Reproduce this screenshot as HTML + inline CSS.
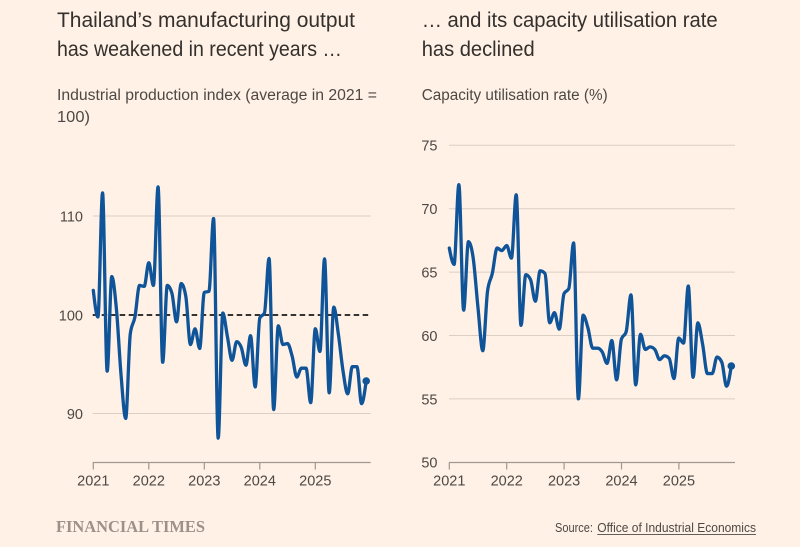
<!DOCTYPE html>
<html>
<head>
<meta charset="utf-8">
<style>
  html,body{margin:0;padding:0;background:#fff1e5;}
  svg{display:block;}
  text{font-family:"Liberation Sans",Arial,sans-serif;}
</style>
</head>
<body>
<svg id="chart" width="800" height="547" viewBox="0 0 800 547" xmlns="http://www.w3.org/2000/svg">
  <rect x="0" y="0" width="800" height="547" fill="#fff1e5"/>

  <!-- Titles -->
  <text x="57" y="27" font-size="21" fill="#33302e" textLength="298" lengthAdjust="spacingAndGlyphs">Thailand’s manufacturing output</text>
  <text x="57" y="56" font-size="21" fill="#33302e" textLength="285" lengthAdjust="spacingAndGlyphs">has weakened in recent years …</text>
  <text x="57" y="100" font-size="15.5" fill="#4d4845" textLength="320" lengthAdjust="spacingAndGlyphs">Industrial production index (average in 2021 =</text>
  <text x="57" y="122" font-size="15.5" fill="#4d4845" textLength="33" lengthAdjust="spacingAndGlyphs">100)</text>

  <text x="421.7" y="27" font-size="21" fill="#33302e" textLength="296" lengthAdjust="spacingAndGlyphs">… and its capacity utilisation rate</text>
  <text x="421.7" y="56" font-size="21" fill="#33302e" textLength="113" lengthAdjust="spacingAndGlyphs">has declined</text>
  <text x="421.7" y="100" font-size="15.5" fill="#4d4845" textLength="186" lengthAdjust="spacingAndGlyphs">Capacity utilisation rate (%)</text>

  <!-- LEFT CHART -->
  <g stroke="#dbcfc4" stroke-width="1">
    <line x1="92.7" y1="216" x2="370.7" y2="216"/>
    <line x1="92.7" y1="413.5" x2="370.7" y2="413.5"/>
  </g>
  <g font-size="14.5" fill="#4d4845" text-anchor="end">
    <text x="83" y="221.5">110</text>
    <text x="83" y="320.5">100</text>
    <text x="83" y="419">90</text>
  </g>
  <g stroke="#a0978f" stroke-width="1.2">
    <line x1="92.7" y1="462.5" x2="370.7" y2="462.5"/>
    <line x1="93.3" y1="462.5" x2="93.3" y2="469.5"/>
    <line x1="148.8" y1="462.5" x2="148.8" y2="469.5"/>
    <line x1="204.3" y1="462.5" x2="204.3" y2="469.5"/>
    <line x1="259.8" y1="462.5" x2="259.8" y2="469.5"/>
    <line x1="315.3" y1="462.5" x2="315.3" y2="469.5"/>
  </g>
  <g font-size="14.5" fill="#4d4845" text-anchor="middle">
    <text x="93.3" y="485.5">2021</text>
    <text x="148.8" y="485.5">2022</text>
    <text x="204.3" y="485.5">2023</text>
    <text x="259.8" y="485.5">2024</text>
    <text x="315.3" y="485.5">2025</text>
  </g>
  <line x1="92.7" y1="315" x2="370.7" y2="315" stroke="#1a1817" stroke-width="1.8" stroke-dasharray="5.5,3.5"/>

  <polyline id="fbL" fill="none" stroke="#0f5499" stroke-width="3.3" stroke-linejoin="round" stroke-linecap="round" vector-effect="non-scaling-stroke"
    transform="matrix(4.625 0 0 -9.85 93.3 1300)"
    points="0,102.5 1,99.8 2,112.4 3,94.3 4,103.9 5,100.6 6,93.9 7,89.5 8,98.1 9,99.8 10,103 11,102.9 12,105.3 13,103 14,113 15,95.2 16,103 17,102.2 18,99.3 19,103.2 20,101.9 21,97 22,98.6 23,96.6 24,102.3 25,102.4 26,109.8 27,87.5 28,100.2 29,97.8 30,95.4 31,97.3 32,96.7 33,94.9 34,97.9 35,92.7 36,99.7 37,100.2 38,105.75 39,90.4 40,98.9 41,97 42,97.1 43,95.8 44,93.7 45,94.6 46,94.6 47,91.1 48,98.6 49,96.3 50,105.7 51,92.1 52,100.8 53,98 54,94.3 55,92 56,94.75 57,94.75 58,91 59,93.3"/>
  <path id="pL" d="" fill="none" stroke="#0f5499" stroke-width="3.3" stroke-linejoin="round" stroke-linecap="round"/>
  <circle cx="366.2" cy="381" r="3.8" fill="#0f5499"/>

  <!-- RIGHT CHART -->
  <g stroke="#dbcfc4" stroke-width="1">
    <line x1="449" y1="145.3" x2="735" y2="145.3"/>
    <line x1="449" y1="208.7" x2="735" y2="208.7"/>
    <line x1="449" y1="272.1" x2="735" y2="272.1"/>
    <line x1="449" y1="335.5" x2="735" y2="335.5"/>
    <line x1="449" y1="398.9" x2="735" y2="398.9"/>
  </g>
  <g font-size="14.5" fill="#4d4845" text-anchor="end">
    <text x="437.5" y="150.5">75</text>
    <text x="437.5" y="214">70</text>
    <text x="437.5" y="277.5">65</text>
    <text x="437.5" y="341">60</text>
    <text x="437.5" y="404.3">55</text>
    <text x="437.5" y="467.5">50</text>
  </g>
  <g stroke="#a0978f" stroke-width="1.2">
    <line x1="449" y1="462.5" x2="735" y2="462.5"/>
    <line x1="449.3" y1="462.5" x2="449.3" y2="469.5"/>
    <line x1="506.7" y1="462.5" x2="506.7" y2="469.5"/>
    <line x1="564.1" y1="462.5" x2="564.1" y2="469.5"/>
    <line x1="621.5" y1="462.5" x2="621.5" y2="469.5"/>
    <line x1="678.9" y1="462.5" x2="678.9" y2="469.5"/>
  </g>
  <g font-size="14.5" fill="#4d4845" text-anchor="middle">
    <text x="449.3" y="485.5">2021</text>
    <text x="506.7" y="485.5">2022</text>
    <text x="564.1" y="485.5">2023</text>
    <text x="621.5" y="485.5">2024</text>
    <text x="678.9" y="485.5">2025</text>
  </g>

  <polyline id="fbR" fill="none" stroke="#0f5499" stroke-width="3.3" stroke-linejoin="round" stroke-linecap="round" vector-effect="non-scaling-stroke"
    transform="matrix(4.78 0 0 -12.68 449.3 1096.3)"
    points="0,66.9 1,65.6 2,71.9 3,62 4,67.4 5,66.1 6,62.2 7,58.8 8,63.5 9,64.9 10,66.9 11,66.7 12,67.1 13,66.1 14,71.1 15,60.8 16,64.8 17,64.4 18,62.7 19,65.1 20,64.9 21,61 22,61.8 23,60.5 24,63.3 25,63.7 26,67.3 27,55 28,61.6 29,60.6 30,59 31,59 32,58.7 33,57.8 34,59.6 35,56.5 36,59.7 37,60.3 38,63.2 39,56.1 40,60.1 41,58.9 42,59.1 43,58.9 44,58.1 45,58.4 46,58.2 47,56.6 48,59.8 49,59.4 50,63.9 51,56.7 52,61 53,59.3 54,57 55,57 56,58.3 57,57.9 58,56 59,57.6"/>
  <path id="pR" d="" fill="none" stroke="#0f5499" stroke-width="3.3" stroke-linejoin="round" stroke-linecap="round"/>
  <circle cx="731.3" cy="366" r="3.8" fill="#0f5499"/>

  <!-- Footer -->
  <text x="56" y="532" font-weight="bold" font-size="17" fill="#9c918a" textLength="149" lengthAdjust="spacingAndGlyphs" style="font-family:'Liberation Serif',serif">FINANCIAL TIMES</text>
  <text x="555" y="532" font-size="12.5" fill="#4d4845" textLength="38" lengthAdjust="spacingAndGlyphs">Source:</text>
  <text x="597.3" y="532" font-size="12.5" fill="#4d4845" textLength="158.7" lengthAdjust="spacingAndGlyphs">Office of Industrial Economics</text>
  <line x1="597.3" y1="534.6" x2="756" y2="534.6" stroke="#4d4845" stroke-width="0.9"/>
</svg>

<script>
(function(){
  var L=[102.5,99.8,112.4,94.3,103.9,100.6,93.9,89.5,98.1,99.8,103,102.9,105.3,103,113,95.2,103,102.2,99.3,103.2,101.9,97,98.6,96.6,102.3,102.4,109.8,87.5,100.2,97.8,95.4,97.3,96.7,94.9,97.9,92.7,99.7,100.2,105.75,90.4,98.9,97,97.1,95.8,93.7,94.6,94.6,91.1,98.6,96.3,105.7,92.1,100.8,98,94.3,92,94.75,94.75,91,93.3];
  var R=[66.9,65.6,71.9,62,67.4,66.1,62.2,58.8,63.5,64.9,66.9,66.7,67.1,66.1,71.1,60.8,64.8,64.4,62.7,65.1,64.9,61,61.8,60.5,63.3,63.7,67.3,55,61.6,60.6,59,59,58.7,57.8,59.6,56.5,59.7,60.3,63.2,56.1,60.1,58.9,59.1,58.9,58.1,58.4,58.2,56.6,59.8,59.4,63.9,56.7,61,59.3,57,57,58.3,57.9,56,57.6];
  function sgn(v){return v<0?-1:1;}
  function build(data,x0,h,yBase,v0,k){
    var n=data.length,ys=[],i;
    for(i=0;i<n;i++) ys.push(yBase-(data[i]-v0)*k);
    var s=[];for(i=0;i<n-1;i++) s.push((ys[i+1]-ys[i])/h);
    var t=new Array(n);
    for(i=1;i<n-1;i++){
      var s0=s[i-1],s1=s[i],p=(s0+s1)/2;
      t[i]=(sgn(s0)+sgn(s1))*Math.min(Math.abs(s0),Math.abs(s1),0.5*Math.abs(p))||0;
    }
    t[0]=(3*s[0]-t[1])/2;
    t[n-1]=(3*s[n-2]-t[n-2])/2;
    var d="M"+x0.toFixed(2)+","+ys[0].toFixed(2);
    var dx=h/3;
    for(i=0;i<n-1;i++){
      var xa=x0+h*i, xb=xa+h;
      d+="C"+(xa+dx).toFixed(2)+","+(ys[i]+dx*t[i]).toFixed(2)+" "+(xb-dx).toFixed(2)+","+(ys[i+1]-dx*t[i+1]).toFixed(2)+" "+xb.toFixed(2)+","+ys[i+1].toFixed(2);
    }
    return d;
  }
  try{
    document.getElementById("pL").setAttribute("d",build(L,93.3,4.625,315,100,9.85));
    document.getElementById("pR").setAttribute("d",build(R,449.3,4.78,462.3,50,12.68));
    document.getElementById("fbL").setAttribute("display","none");
    document.getElementById("fbR").setAttribute("display","none");
  }catch(e){}
})();
</script>
</body>
</html>
